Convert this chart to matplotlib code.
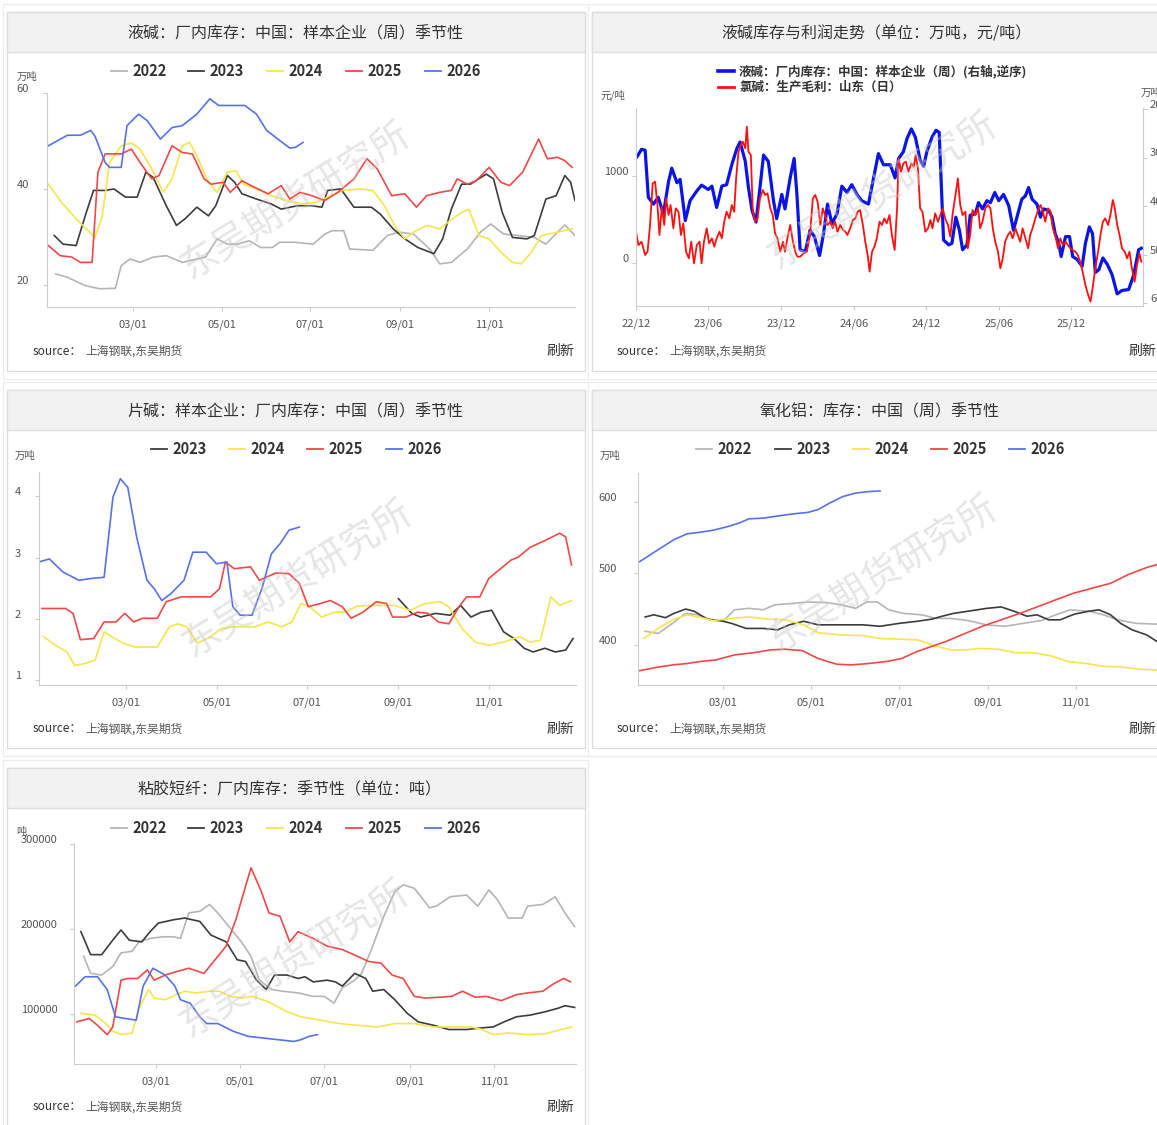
import numpy as np
import matplotlib.pyplot as plt
from matplotlib.patches import Rectangle
from matplotlib.lines import Line2D
from matplotlib.transforms import ScaledTranslation

plt.rcParams['font.family'] = ['Noto Sans CJK SC', 'DejaVu Sans']

# ---- 液碱 厂内库存 季节性 (万吨), x = day of year ----
lye22_x = [6, 14, 26, 36, 47, 51, 57, 64, 73, 82, 93, 103, 109, 117, 124, 131, 139, 147, 155, 160, 170, 183, 191, 196,
           204, 208, 224, 234, 242, 252, 263, 270, 278, 289, 298, 305, 314, 324, 335, 343, 351, 356, 363]
lye22_y = [22.3, 21.6, 19.9, 19.2, 19.3, 24.0, 25.4, 24.7, 25.8, 26.1, 24.7, 25.4, 25.8, 29.6, 28.5, 28.5, 29.2, 27.8,
           27.8, 28.9, 28.9, 28.5, 30.6, 31.3, 31.3, 27.5, 27.2, 30.3, 31.0, 30.6, 27.5, 24.4, 24.7, 27.5, 31.0, 32.7,
           30.6, 30.3, 29.9, 28.5, 31.0, 32.5, 30.3]
lye23_x = [5, 11, 20, 27, 32, 40, 46, 54, 62, 68, 73, 82, 89, 95, 103, 111, 116, 124, 129, 134, 144, 154, 161, 172, 182,
           189, 193, 202, 211, 223, 229, 238, 246, 255, 266, 272, 278, 285, 291, 302, 307, 313, 320, 330, 335, 343, 350,
           356, 360, 363]
lye23_y = [30.3, 28.5, 28.2, 35.1, 39.7, 39.7, 40.0, 38.3, 38.3, 43.5, 42.4, 36.5, 32.4, 33.8, 36.2, 34.4, 36.5, 42.8,
           41.4, 39.0, 37.9, 36.9, 35.8, 36.5, 36.5, 36.2, 39.7, 40.0, 36.2, 36.2, 34.8, 31.7, 29.6, 27.8, 26.5, 29.6,
           35.8, 41.0, 41.0, 43.1, 42.1, 35.1, 29.9, 29.6, 30.3, 37.9, 38.6, 42.8, 41.4, 37.6]
lye24_x = [1, 10, 20, 33, 38, 43, 51, 58, 64, 72, 80, 86, 93, 98, 103, 111, 117, 124, 130, 135, 144, 154, 165, 175, 185,
           195, 203, 216, 224, 232, 239, 246, 252, 261, 270, 277, 285, 290, 297, 304, 312, 320, 326, 333, 340, 351, 361]
lye24_y = [41.0, 37.2, 33.8, 29.9, 34.4, 45.5, 49.0, 49.6, 48.3, 44.2, 39.3, 42.1, 49.0, 49.7, 46.9, 41.4, 39.3, 43.5,
           43.8, 41.0, 40.0, 38.6, 37.6, 36.9, 37.2, 38.6, 39.7, 40.0, 39.7, 36.5, 32.4, 29.6, 31.0, 32.4, 31.7, 33.4,
           35.1, 35.8, 30.3, 29.6, 26.8, 24.7, 24.4, 26.8, 30.3, 31.0, 31.7]
lye25_x = [1, 9, 17, 23, 31, 35, 40, 51, 58, 64, 72, 77, 86, 93, 100, 108, 113, 121, 126, 134, 143, 152, 161, 167, 174,
           182, 191, 200, 211, 220, 227, 237, 246, 254, 261, 270, 278, 282, 289, 295, 304, 312, 318, 327, 338, 344, 351,
           356, 361]
lye25_y = [28.2, 26.1, 25.8, 24.7, 24.7, 43.5, 47.3, 47.3, 48.3, 45.5, 42.1, 42.8, 49.0, 47.6, 47.3, 42.1, 41.0, 41.4,
           39.3, 41.7, 40.3, 39.0, 40.7, 37.9, 39.3, 38.6, 37.6, 39.3, 42.1, 46.3, 44.2, 38.6, 39.0, 36.2, 38.6, 39.3,
           39.7, 42.1, 41.0, 41.7, 44.5, 41.4, 40.7, 43.5, 50.4, 46.3, 46.6, 45.9, 44.5]
lye26_x = [1, 14, 23, 30, 33, 40, 43, 51, 55, 63, 69, 78, 86, 93, 103, 112, 118, 136, 144, 151, 160, 167, 171, 176]
lye26_y = [49.0, 51.2, 51.2, 52.2, 51.0, 45.5, 44.5, 44.5, 53.2, 55.6, 54.2, 50.4, 52.8, 53.2, 55.6, 58.8, 57.4, 57.4,
           55.6, 52.2, 50.1, 48.5, 48.7, 49.7]

# ---- 液碱库存 (右轴逆序, 万吨) 与 氯碱毛利 (元/吨), x = days since 2022-12-01 ----
inv_day = [3, 14, 23, 31, 44, 56, 69, 82, 90, 103, 111, 124, 136, 153, 165, 182, 191, 203, 216, 228, 241, 254, 262, 275,
           283, 292, 302, 312, 321, 333, 346, 354, 367, 375, 388, 398, 405, 413, 426, 438, 449, 462, 472, 482, 493, 506,
           518, 531, 543, 556, 568, 585, 598, 610, 623, 640, 652, 661, 673, 682, 693, 703, 715, 724, 732, 745, 755, 763,
           770, 774, 787, 795, 805, 814, 822, 833, 841, 854, 862, 872, 883, 892, 903, 913, 925, 938, 950, 961, 971, 980,
           988, 997, 1009, 1018, 1026, 1039, 1047, 1055, 1064, 1070, 1081, 1091, 1099, 1110, 1123, 1131, 1141, 1149,
           1156, 1165, 1175, 1186, 1198, 1211, 1223, 1240, 1253, 1265, 1272]
inv_val = [29.8, 28.3, 28.5, 38.2, 39.6, 38.2, 41.6, 34.9, 32.2, 35.2, 34.5, 43.0, 38.9, 36.9, 35.7, 36.6, 35.9, 40.3,
           35.9, 35.6, 31.5, 28.1, 26.8, 30.8, 36.2, 40.9, 43.3, 36.2, 29.5, 30.8, 38.9, 42.6, 37.6, 40.6, 34.2, 30.2,
           37.6, 49.0, 49.4, 45.0, 46.3, 50.2, 45.7, 39.6, 43.6, 41.6, 35.9, 37.2, 35.6, 37.6, 38.9, 39.6, 34.2, 29.2,
           31.5, 31.5, 34.2, 30.2, 28.8, 26.1, 24.1, 25.8, 30.5, 31.8, 28.8, 25.8, 24.4, 24.8, 38.9, 47.0, 48.0, 47.7,
           42.3, 45.0, 49.0, 48.0, 41.9, 41.6, 39.3, 40.6, 38.9, 39.3, 37.2, 38.9, 37.6, 39.9, 45.0, 41.6, 38.6, 37.9,
           36.2, 38.6, 39.6, 42.3, 40.6, 40.9, 42.3, 45.7, 47.7, 50.4, 46.3, 46.3, 50.4, 51.0, 52.4, 47.7, 44.3, 45.7,
           53.7, 53.1, 50.7, 52.0, 54.1, 58.1, 57.4, 57.2, 54.1, 49.0, 48.7]
mar_day = [0, 6, 14, 23, 29, 35, 42, 48, 54, 59, 65, 71, 76, 82, 87, 94, 100, 107, 113, 119, 126, 133, 139, 146, 153,
           160, 165, 171, 178, 184, 191, 197, 203, 210, 216, 222, 228, 235, 241, 247, 252, 258, 264, 269, 275, 279, 283,
           289, 294, 300, 306, 312, 319, 325, 331, 338, 344, 350, 356, 363, 370, 375, 381, 388, 395, 401, 406, 413, 422,
           430, 438, 445, 451, 457, 464, 470, 476, 482, 489, 495, 501, 507, 514, 521, 527, 532, 539, 546, 552, 558, 564,
           571, 577, 583, 588, 594, 600, 606, 613, 619, 625, 631, 638,
           644, 651, 657, 661, 667, 673, 679, 686, 693, 699, 704, 710, 715, 721, 728, 735, 741, 746, 753, 760, 766, 772,
           778, 785, 791, 797, 804, 810, 816, 822, 829, 835, 841, 847, 854, 861, 866, 872, 879, 886, 892, 898, 904, 911,
           917, 923, 929, 936, 942, 948, 955, 961, 967, 973, 980, 987, 992, 998, 1005, 1012, 1018, 1023, 1030, 1037,
           1043, 1049, 1055, 1062, 1068, 1074, 1081, 1087, 1093, 1099, 1106, 1112, 1118, 1124, 1131, 1138, 1144, 1149,
           1156, 1163, 1169, 1175, 1181, 1188, 1194, 1200, 1205, 1211, 1217, 1223, 1230, 1236, 1242, 1248, 1255, 1261,
           1267, 1272]
mar_val = [360, 207, 245, 92, 130, 418, 916, 935, 667, 322, 648, 437, 743, 552, 667, 399, 629, 590, 322, 456, 130, 54,
           245, -4, 207, 245, -4, 245, 399, 226, 284, 188, 284, 360, 284, 475, 590, 513, 667, 590, 973, 1280, 1356,
           1395, 1318, 1567, 1280, 1241, 590, 475, 513, 743, 839, 782, 801, 629, 552, 341, 284, 130, 245, 130, 284, 437,
           245, 130, 73, 73, 111, 130, 322, 743, 782, 705, 437, 629, 552, 437, 475, 399, 475, 360, 437, 380, 360, 322,
           399, 494, 513, 590, 609, 437, 245, 92, -99, 130, 188, 284, 475, 437, 513, 456, 552,
           322, 150, 629, 1203, 1050, 1146, 1165, 1050, 1146, 1107, 1241, 1069, 629, 590, 360, 399, 494, 399, 571, 475,
           552, 629, 513, 437, 303, 571, 782, 973, 667, 552, 590, 169, 322, 609, 552, 629, 399, 475, 629, 667, 629, 399,
           245, 130, -61, 54, 245, 322, 360, 284, 399, 322, 245, 399, 284, 169, 322, 399, 513, 609, 667, 609, 475, 629,
           590, 399, 322, 169, 284, 207, 245, 207, 169, 150, 130, 92, 15, -99, -253, -368, -444, -291, -61, 130, 322,
           475, 513, 437, 552, 724, 629, 437, 322, 169, 130, 54, 130, -61, -214, -23, 111, 15]

# ---- 片碱 厂内库存 季节性 (万吨) ----
fl23_x = [243, 252, 258, 268, 278, 285, 292, 299, 306, 314, 321, 328, 334, 342, 349, 356, 361]
fl23_y = [2.33, 2.09, 2.03, 2.09, 2.06, 2.22, 2.03, 2.11, 2.14, 1.79, 1.68, 1.52, 1.46, 1.52, 1.46, 1.49, 1.68]
fl24_x = [3, 11, 19, 24, 31, 38, 44, 49, 57, 65, 80, 88, 94, 100, 107, 116, 123, 131, 146, 155, 164, 171, 177, 183, 191,
          200, 207, 215, 228, 240, 251, 261, 271, 277, 286, 295, 304, 314, 325, 332, 339, 346, 352, 360]
fl24_y = [1.71, 1.57, 1.46, 1.24, 1.27, 1.33, 1.79, 1.71, 1.60, 1.54, 1.54, 1.87, 1.92, 1.87, 1.60, 1.71, 1.84, 1.87,
          1.87, 1.95, 1.87, 1.95, 2.25, 2.20, 2.03, 2.11, 2.11, 2.21, 2.22, 2.22, 2.14, 2.25, 2.28, 2.20, 1.84, 1.62,
          1.57, 1.62, 1.71, 1.62, 1.65, 2.36, 2.22, 2.30]
fl25_x = [2, 18, 23, 28, 37, 44, 52, 58, 64, 70, 80, 86, 96, 106, 116, 122, 126, 132, 143, 149, 160, 169, 176, 182, 190,
          197, 205, 211, 219, 228, 235, 239, 248, 256, 263, 270, 277, 284, 289, 298, 304, 312, 319, 324, 332, 342, 352,
          356, 360]
fl25_y = [2.17, 2.17, 2.09, 1.66, 1.68, 1.95, 1.95, 2.09, 1.95, 2.01, 2.01, 2.28, 2.36, 2.36, 2.36, 2.49, 2.93, 2.82,
          2.85, 2.63, 2.75, 2.74, 2.58, 2.20, 2.25, 2.30, 2.20, 2.01, 2.11, 2.28, 2.25, 2.03, 2.03, 2.11, 2.09, 1.95,
          1.92, 2.20, 2.36, 2.36, 2.66, 2.82, 2.96, 3.01, 3.17, 3.28, 3.40, 3.34, 2.88]
fl26_x = [0, 7, 16, 27, 35, 44, 50, 55, 60, 66, 73, 78, 83, 89, 98, 104, 113, 120, 127, 131, 136, 144, 151, 157, 163,
          169, 176]
fl26_y = [2.93, 2.98, 2.77, 2.63, 2.66, 2.68, 3.99, 4.29, 4.15, 3.34, 2.63, 2.49, 2.30, 2.41, 2.63, 3.09, 3.09, 2.90,
          2.93, 2.20, 2.06, 2.06, 2.52, 3.06, 3.23, 3.45, 3.50]

# ---- 氧化铝 库存 季节性 (万吨) ----
al22_x = [5, 14, 24, 33, 42, 50, 59, 67, 77, 87, 95, 108, 118, 131, 141, 151, 159, 166, 174, 184, 197, 207, 217, 229,
          242, 255, 267, 280, 290, 300, 313, 323, 333, 346, 360]
al22_y = [419, 416, 430, 444, 442, 435, 433, 449, 451, 449, 456, 458, 460, 459, 456, 451, 460, 460, 449, 444, 442, 437,
          437, 434, 428, 426, 430, 434, 442, 449, 447, 442, 435, 430, 429]
al23_x = [5, 11, 19, 25, 33, 39, 48, 57, 65, 75, 87, 97, 105, 115, 125, 140, 156, 168, 181, 194, 204, 211, 219, 229,
          242, 252, 261, 270, 277, 285, 293, 303, 313, 320, 328, 335, 343, 353, 360]
al23_y = [439, 442, 438, 444, 450, 447, 436, 434, 430, 423, 423, 421, 428, 433, 428, 428, 428, 426, 430, 433, 436, 440,
          444, 447, 451, 453, 447, 440, 442, 435, 435, 443, 447, 449, 442, 430, 421, 414, 405]
al24_x = [4, 14, 24, 34, 42, 52, 65, 77, 90, 102, 115, 125, 140, 156, 168, 181, 194, 204, 217, 227, 237, 250, 262, 275,
          288, 298, 311, 323, 336, 348, 360]
al24_y = [409, 423, 435, 442, 439, 434, 437, 439, 436, 435, 428, 417, 414, 413, 409, 408, 407, 400, 393, 393, 395, 394,
          389, 389, 384, 377, 374, 370, 369, 366, 365]
al25_x = [1, 14, 24, 34, 44, 54, 67, 80, 92, 102, 114, 125, 138, 148, 160, 173, 183, 194, 204, 214, 227, 239, 252, 265,
          277, 290, 302, 315, 328, 340, 353, 360]
al25_y = [364, 369, 372, 374, 377, 379, 386, 389, 393, 394, 392, 381, 373, 372, 374, 377, 381, 391, 398, 405, 416, 426,
          435, 444, 453, 463, 472, 479, 486, 498, 508, 512]
al26_x = [1, 14, 25, 34, 42, 52, 62, 70, 77, 87, 97, 108, 118, 125, 133, 142, 151, 160, 168]
al26_y = [516, 533, 547, 555, 557, 560, 565, 570, 576, 577, 580, 583, 585, 589, 598, 607, 612, 614, 615]

# ---- 粘胶短纤 厂内库存 季节性 (千吨 -> 吨) ----
vs22_x = [7, 12, 20, 28, 34, 42, 47, 55, 64, 72, 77, 83, 91, 98, 104, 113, 121, 128, 134, 143, 151, 162, 173, 181, 188,
          194, 203, 208, 216, 224, 232, 238, 246, 251, 257, 262, 272, 284, 292, 300, 306, 314, 324, 328, 339, 348, 355,
          362]
vs22_y = [168, 148, 146, 156, 172, 174, 185, 189, 191, 191, 189, 219, 221, 229, 219, 201, 185, 168, 140, 129, 127, 125,
          121, 121, 113, 131, 140, 148, 180, 215, 244, 252, 248, 238, 225, 227, 238, 240, 227, 246, 235, 213, 213, 227,
          229, 238, 219, 203]
vs23_x = [5, 12, 20, 28, 34, 40, 49, 55, 61, 72, 80, 91, 99, 110, 118, 124, 132, 139, 145, 154, 162, 167, 173, 183, 189,
          194, 203, 211, 216, 224, 232, 241, 249, 260, 271, 284, 295, 303, 311, 320, 330, 341, 350, 355, 362]
vs23_y = [197, 170, 170, 187, 199, 187, 185, 197, 207, 211, 213, 209, 193, 185, 164, 162, 140, 129, 146, 146, 142, 144,
          138, 140, 138, 133, 148, 142, 127, 129, 117, 101, 91, 87, 82, 82, 84, 85, 91, 97, 99, 103, 107, 110, 108]
vs24_x = [5, 15, 23, 28, 35, 42, 47, 54, 58, 66, 74, 80, 88, 98, 105, 113, 121, 129, 140, 154, 164, 178, 192, 205, 219,
          232, 246, 260, 273, 287, 295, 303, 314, 328, 341, 352, 360]
vs24_y = [101, 99, 89, 80, 76, 78, 107, 129, 119, 117, 123, 127, 125, 127, 127, 121, 119, 121, 115, 103, 97, 93, 89, 87,
          85, 89, 89, 85, 85, 85, 82, 76, 78, 76, 77, 82, 85]
vs25_x = [2, 11, 17, 24, 28, 34, 39, 46, 53, 58, 66, 74, 83, 94, 102, 110, 117, 124, 128, 135, 141, 149, 156, 162, 173,
          183, 194, 205, 213, 222, 230, 238, 246, 254, 265, 273, 281, 290, 298, 309, 320, 328, 339, 347, 354, 359]
vs25_y = [91, 95, 87, 76, 85, 140, 142, 142, 152, 140, 146, 150, 154, 148, 164, 180, 211, 250, 272, 246, 219, 215, 185,
          197, 189, 180, 176, 168, 162, 160, 146, 142, 121, 119, 120, 121, 127, 120, 121, 116, 123, 125, 127, 136, 142,
          138]
vs26_x = [1, 8, 17, 24, 30, 37, 45, 50, 57, 66, 73, 77, 84, 91, 96, 104, 115, 126, 137, 148, 159, 164, 170, 176]
vs26_y = [133, 144, 144, 129, 97, 95, 93, 133, 154, 146, 133, 117, 113, 97, 89, 89, 80, 74, 72, 70, 68, 70, 74, 76]

season_ticks = [59, 120, 181, 243, 304]
season_labels = ['03/01', '05/01', '07/01', '09/01', '11/01']
colors = {'2022': '#b5b5b5', '2023': '#3c3c3c', '2024': '#f6e54c', '2025': '#f04848', '2026': '#5872e4'}

W, H = 1157, 1125
fig = plt.figure(figsize=(W / 100, H / 100), dpi=100)
fig.patch.set_facecolor('white')
lift = ScaledTranslation(0, 5 / 100, fig.dpi_scale_trans)  # y labels sit a little above their ticks


def fx(x):
    return x / W


def fy(y):
    return 1 - y / H


def rect(x0, y0, x1, y1, fc, ec, lw=1.0):
    fig.add_artist(Rectangle((fx(x0), fy(y1)), (x1 - x0) / W, (y1 - y0) / H, transform=fig.transFigure,
                             facecolor=fc, edgecolor=ec, lw=lw, zorder=0))


def card(x0, y0, x1, y1, title, tx, src_x, src_y, ref_x, ref_right=True):
    rect(x0 - 4, y0 - 8, x1 + 3, y1 + 8, 'white', '#ececec', 0.8)
    rect(x0, y0, x1, y1, 'white', '#dedede', 1.0)
    rect(x0, y0, x1, y0 + 40, '#f2f2f2', '#dedede', 1.0)
    fig.text(fx(tx), fy(y0 + 22), title, ha='center', va='center', fontsize=11.5, color='#333333')
    fig.text(fx(src_x), fy(src_y), 'source：', ha='left', va='center', fontsize=8.5, color='#333333')
    fig.text(fx(src_x + 52), fy(src_y), '上海钢联,东吴期货', ha='left', va='center', fontsize=8.5,
             color='#555555')
    fig.text(fx(ref_x), fy(src_y), '刷新', ha='right' if ref_right else 'left', va='center', fontsize=10,
             color='#333333')


def legend_row(y, items, lw=1.3, size=10.5, seg=16):
    for x, label, color in items:
        fig.add_artist(Line2D([fx(x), fx(x + seg)], [fy(y), fy(y)], color=color, lw=lw, transform=fig.transFigure))
        fig.text(fx(x + seg + 5), fy(y), label, ha='left', va='center', fontsize=size, fontweight='bold',
                 color='#333333')


def watermark(cx, cy):
    fig.text(fx(cx), fy(cy), '东吴期货研究所', ha='center', va='center', rotation=32, fontsize=27,
             color='#c8c8c8', alpha=0.45, zorder=20)


def new_ax(l, t, r, b):
    return fig.add_axes([fx(l), fy(b), (r - l) / W, (b - t) / H])


def lift_labels(ax):
    for lbl in ax.get_yticklabels():
        lbl.set_transform(lbl.get_transform() + lift)


def style(ax, ypad):
    for s in ['top', 'right']:
        ax.spines[s].set_visible(False)
    for s in ['left', 'bottom']:
        ax.spines[s].set_color('#cccccc')
        ax.spines[s].set_linewidth(0.8)
    ax.tick_params(colors='#cccccc', labelcolor='#555555', labelsize=8, length=3, width=0.8)
    ax.tick_params(axis='y', pad=ypad)
    ax.tick_params(axis='x', pad=6)
    ax.set_facecolor('none')


def season(ax, series, ylim, yticks, ypad):
    for year, xs, ys in series:
        ax.plot(xs, ys, color=colors[year], lw=1.2)
    ax.set_xlim(0, 363)
    ax.set_ylim(*ylim)
    ax.set_xticks(season_ticks)
    ax.set_xticklabels(season_labels)
    ax.set_yticks(yticks)
    ax.set_yticklabels([str(v) for v in yticks])
    style(ax, ypad)
    lift_labels(ax)


# cards
card(7, 12, 585, 371, '液碱：厂内库存：中国：样本企业（周）季节性', 295, 33, 351, 574)
card(592, 12, 1170, 371, '液碱库存与利润走势（单位：万吨，元/吨）', 876, 617, 351, 1129, ref_right=False)
card(7, 390, 585, 748, '片碱：样本企业：厂内库存：中国（周）季节性', 295, 33, 729, 574)
card(592, 390, 1170, 748, '氧化铝：库存：中国（周）季节性', 880, 617, 729, 1129, ref_right=False)
card(7, 768, 585, 1135, '粘胶短纤：厂内库存：季节性（单位：吨）', 290, 33, 1107, 574)

# panel A
axA = new_ax(47, 93, 575, 307)
season(axA, [('2022', lye22_x, lye22_y), ('2023', lye23_x, lye23_y), ('2024', lye24_x, lye24_y),
             ('2025', lye25_x, lye25_y), ('2026', lye26_x, lye26_y)],
       (15.4, 60), [20, 40, 60], 10)
fig.text(fx(17), fy(77), '万吨', fontsize=7.5, color='#555555', va='center')
legend_row(71, [(111, '2022', colors['2022']), (188, '2023', colors['2023']), (267, '2024', colors['2024']),
                (346, '2025', colors['2025']), (425, '2026', colors['2026'])])

# panel B
start = np.datetime64('2022-12-01')
axB = new_ax(636, 108, 1143, 306)
axB2 = axB.twinx()
axB2.plot(start + np.array(inv_day), inv_val, color='#0a14e6', lw=2.3)
axB.plot(start + np.array(mar_day), mar_val, color='#ff1010', lw=1.3)
axB.set_zorder(axB2.get_zorder() + 1)
axB.set_ylim(-494, 1782)
axB.set_yticks([0, 1000])
axB2.set_ylim(60.6, 19.8)
axB2.set_yticks([20, 30, 40, 50, 60])
xt = [np.datetime64(d) for d in ['2022-12-01', '2023-06-01', '2023-12-01', '2024-06-01', '2024-12-01',
                                 '2025-06-01', '2025-12-01']]
axB.set_xlim(start, start + np.timedelta64(1276, 'D'))
axB.set_xticks(xt)
axB.set_xticklabels(['22/12', '23/06', '23/12', '24/06', '24/12', '25/06', '25/12'])
style(axB, 2)
lift_labels(axB)
for s in ['top', 'left', 'bottom']:
    axB2.spines[s].set_visible(False)
axB2.spines['right'].set_color('#cccccc')
axB2.spines['right'].set_linewidth(0.8)
axB2.tick_params(colors='#cccccc', labelcolor='#555555', labelsize=8, length=3, width=0.8, pad=2)
lift_labels(axB2)
fig.text(fx(600), fy(95), '元/吨', fontsize=7.5, color='#555555', va='center')
fig.text(fx(1141), fy(93), '万吨', fontsize=7.5, color='#555555', va='center')
legend_row(71, [(718, '液碱：厂内库存：中国：样本企业（周）(右轴,逆序)', '#0a14e6')], lw=2.6, size=9)
legend_row(87, [(718, '氯碱：生产毛利：山东（日）', '#ff1010')], lw=2.0, size=9)

# panel C
axC = new_ax(39, 472, 576, 685)
season(axC, [('2023', fl23_x, fl23_y), ('2024', fl24_x, fl24_y), ('2025', fl25_x, fl25_y),
             ('2026', fl26_x, fl26_y)],
       (0.92, 4.40), [1, 2, 3, 4], 10)
fig.text(fx(15), fy(456), '万吨', fontsize=7.5, color='#555555', va='center')
legend_row(449, [(151, '2023', colors['2023']), (229, '2024', colors['2024']), (307, '2025', colors['2025']),
                 (386, '2026', colors['2026'])])

# panel D
axD = new_ax(638, 473, 1161, 685)
season(axD, [('2022', al22_x, al22_y), ('2023', al23_x, al23_y), ('2024', al24_x, al24_y),
             ('2025', al25_x, al25_y), ('2026', al26_x, al26_y)],
       (344, 640), [400, 500, 600], 12)
fig.text(fx(600), fy(456), '万吨', fontsize=7.5, color='#555555', va='center')
legend_row(449, [(696, '2022', colors['2022']), (775, '2023', colors['2023']), (853, '2024', colors['2024']),
                 (931, '2025', colors['2025']), (1009, '2026', colors['2026'])])

# panel E
axE = new_ax(74, 844, 576, 1064)
season(axE, [('2022', vs22_x, np.array(vs22_y) * 1000), ('2023', vs23_x, np.array(vs23_y) * 1000),
             ('2024', vs24_x, np.array(vs24_y) * 1000), ('2025', vs25_x, np.array(vs25_y) * 1000),
             ('2026', vs26_x, np.array(vs26_y) * 1000)],
       (41500, 300000), [100000, 200000, 300000], 9)
fig.text(fx(16), fy(832), '吨', fontsize=7.5, color='#555555', va='center')
legend_row(828, [(111, '2022', colors['2022']), (188, '2023', colors['2023']), (267, '2024', colors['2024']),
                 (346, '2025', colors['2025']), (425, '2026', colors['2026'])])

for cx, cy in [(295, 200), (882, 190), (297, 578), (882, 573), (294, 958)]:
    watermark(cx, cy)

fig.savefig('out.png', dpi=100, facecolor='white')
